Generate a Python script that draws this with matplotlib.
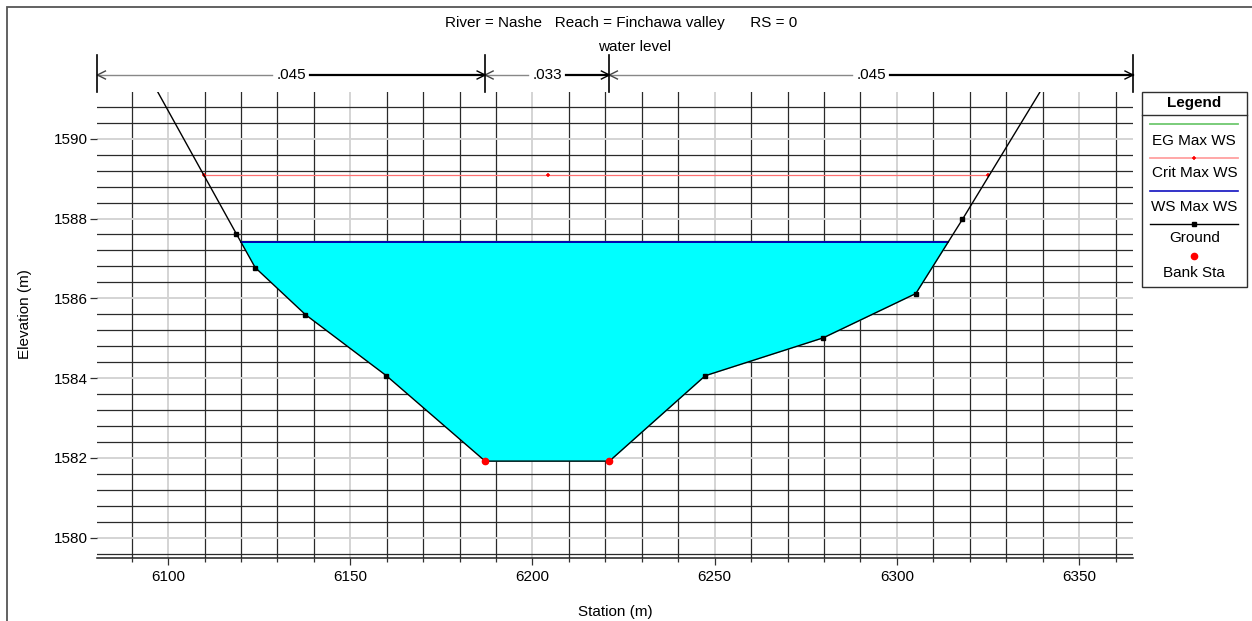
import numpy as np
import matplotlib
matplotlib.use('Agg')
import matplotlib.pyplot as plt
from matplotlib.ticker import MultipleLocator, FixedLocator
from matplotlib.transforms import blended_transform_factory
from matplotlib.lines import Line2D
from matplotlib.patches import Rectangle

plt.rcParams['font.family'] = ['Liberation Sans', 'DejaVu Sans']

# ---------------- data ----------------
ground_x = [6080.6, 6118.7, 6123.9, 6137.7, 6159.9, 6187.0, 6221.1, 6247.4, 6279.8, 6305.2, 6318.0, 6364.8]
ground_y = [1593.9, 1587.62, 1586.77, 1585.59, 1584.06, 1581.92, 1581.92, 1584.06, 1585.01, 1586.12, 1587.98, 1595.0]
bank_x = [6187.0, 6221.1]
bank_y = [1581.92, 1581.92]
ws_elev = 1587.42
eg_elev = 1587.43
crit_x = [6109.8, 6204.2, 6325.1]
crit_elev = 1589.08
n_breaks = [6080.6, 6187.0, 6221.1, 6364.8]
n_values = ['.045', '.033', '.045']
x_ticks = [6100, 6150, 6200, 6250, 6300, 6350]
y_ticks = [1580, 1582, 1584, 1586, 1588, 1590]
legend_labels = ['EG Max WS', 'Crit Max WS', 'WS Max WS', 'Ground', 'Bank Sta']
title_text = 'River = Nashe   Reach = Finchawa valley      RS = 0'
subtitle_text = 'water level'

# ---------------- figure ----------------
W, H = 1252, 621
fig = plt.figure(figsize=(W / 100, H / 100), dpi=100)
fig.patch.set_facecolor('white')


def fx(px):
    return px / W


def fy(py):
    return 1 - py / H


ax = fig.add_axes([fx(96.7), fy(557.7), fx(1133) - fx(96.7), fy(92) - fy(557.7)])
ax.set_xlim(6080.4, 6364.8)
ax.set_ylim(1579.5, 1591.17)

ax.xaxis.set_major_locator(FixedLocator(x_ticks))
ax.xaxis.set_minor_locator(MultipleLocator(10))
ax.yaxis.set_major_locator(FixedLocator(y_ticks))
ax.yaxis.set_minor_locator(MultipleLocator(0.4))
ax.set_xticklabels([str(v) for v in x_ticks])
ax.set_yticklabels([str(v) for v in y_ticks])

ax.set_axisbelow(True)
ax.grid(which='major', color='#d4d4d4', lw=1.4)
ax.grid(which='minor', color='#2a2a2a', lw=0.9)

ax.tick_params(axis='x', which='major', length=5.2, width=0.9, color='#303030',
               labelsize=11, pad=4)
ax.tick_params(axis='x', which='minor', length=3.0, width=0.9, color='#303030')
ax.tick_params(axis='y', which='major', length=4.8, width=0.9, color='#303030',
               labelsize=11, pad=1.5)
ax.tick_params(axis='y', which='minor', length=0)
for s in ['top', 'left', 'right']:
    ax.spines[s].set_visible(False)
ax.spines['bottom'].set_color('#202020')
ax.spines['bottom'].set_linewidth(1.1)

gx = np.array(ground_x)
gy = np.array(ground_y)

# water fill
ax.fill_between(gx, gy, ws_elev, where=gy <= ws_elev, interpolate=True,
                color='#00ffff', lw=0, zorder=2)


# water surface extent (intersections with ground)
def crossings(x, y, level):
    pts = []
    for i in range(len(x) - 1):
        y0, y1 = y[i] - level, y[i + 1] - level
        if y0 * y1 < 0:
            t = y0 / (y0 - y1)
            pts.append(x[i] + t * (x[i + 1] - x[i]))
    return pts


wx = crossings(gx, gy, ws_elev)
ax.plot([wx[0], wx[-1]], [eg_elev, eg_elev], color='#40c040', lw=1.0, zorder=3)
ax.plot([wx[0], wx[-1]], [ws_elev, ws_elev], color='#0000b0', lw=1.4, zorder=4)

# critical WS
ax.plot([crit_x[0], crit_x[-1]], [crit_elev, crit_elev], color='#ff7070', lw=0.9, zorder=4)
ax.plot(crit_x, [crit_elev] * len(crit_x), ls='none', marker='+', ms=3.5, mew=1.1,
        color='#ff0000', zorder=5)

# ground
ax.plot(gx, gy, color='black', lw=1.0, marker='s', ms=3.2, mfc='black', mec='black', zorder=6)
# bank stations
ax.plot(bank_x, bank_y, ls='none', marker='o', ms=4.5, mfc='#ff0000', mec='#ff0000', zorder=7)

# ---------------- Manning's n annotation ----------------
tr = blended_transform_factory(ax.transData, fig.transFigure)
y_line = fy(75)
px_per_unit = (fx(1133) - fx(96.7)) * W / (6364.8 - 6080.4)
fig.canvas.draw()
renderer = fig.canvas.get_renderer()
for i, val in enumerate(n_values):
    a, b = n_breaks[i], n_breaks[i + 1]
    c = (a + b) / 2
    t = ax.text(c, y_line, val, transform=tr, ha='center', va='center', fontsize=11,
                clip_on=False)
    bb = t.get_window_extent(renderer=renderer)
    half = (bb.width / 2 + 4) / px_per_unit
    ax.plot([a, c - half], [y_line, y_line], transform=tr, color='#888888', lw=1.0, clip_on=False)
    ax.plot([c + half, b], [y_line, y_line], transform=tr, color='black', lw=1.6, clip_on=False)
    dxu = 8 / px_per_unit
    dyf = 4 / H
    ax.plot([a + dxu, a, a + dxu], [y_line + dyf, y_line, y_line - dyf], transform=tr,
            color='#444444', lw=1.0, clip_on=False)
    ax.plot([b - dxu, b, b - dxu], [y_line + dyf, y_line, y_line - dyf], transform=tr,
            color='black', lw=1.0, clip_on=False)
for xb in n_breaks:
    ax.plot([xb, xb], [fy(55), fy(92)], transform=tr, color='black', lw=1.2, clip_on=False)

# ---------------- titles / labels ----------------
fig.text(fx(621), fy(23.3), title_text, ha='center', va='center', fontsize=11)
fig.text(fx(635), fy(46.7), subtitle_text, ha='center', va='center', fontsize=11)
fig.text(fx(615.8), fy(612), 'Station (m)', ha='center', va='center', fontsize=11)
fig.text(fx(25), fy(314), 'Elevation (m)', ha='center', va='center', fontsize=11, rotation=90)

# ---------------- legend ----------------
lx0, lx1, ly0, ly1 = 1142, 1246.7, 92, 286.7
fig.add_artist(Rectangle((fx(lx0), fy(ly1)), fx(lx1) - fx(lx0), (ly1 - ly0) / H,
                         transform=fig.transFigure, facecolor='white', edgecolor='#303030', lw=1.0))
fig.add_artist(Line2D([fx(lx0), fx(lx1)], [fy(115), fy(115)], transform=fig.transFigure,
                      color='#303030', lw=1.0))
cx = (lx0 + lx1) / 2
fig.text(fx(cx), fy(103.3), 'Legend', ha='center', va='center', fontsize=11, fontweight='bold')
sx0, sx1 = 1150, 1238
sym_y = [124.3, 157.7, 190.7, 224, 255.7]
txt_y = [140.7, 172.7, 206.7, 238.3, 272.7]
fig.add_artist(Line2D([fx(sx0), fx(sx1)], [fy(sym_y[0])] * 2, transform=fig.transFigure,
                      color='#70c870', lw=1.3))
fig.add_artist(Line2D([fx(sx0), fx(sx1)], [fy(sym_y[1])] * 2, transform=fig.transFigure,
                      color='#ffa0a0', lw=1.3))
fig.add_artist(Line2D([fx(cx)], [fy(sym_y[1])], transform=fig.transFigure, ls='none',
                      marker='+', ms=3.5, mew=1.1, color='#ff0000'))
fig.add_artist(Line2D([fx(sx0), fx(sx1)], [fy(sym_y[2])] * 2, transform=fig.transFigure,
                      color='#1010c0', lw=1.2))
fig.add_artist(Line2D([fx(sx0), fx(sx1)], [fy(sym_y[3])] * 2, transform=fig.transFigure,
                      color='black', lw=1.0))
fig.add_artist(Line2D([fx(cx)], [fy(sym_y[3])], transform=fig.transFigure, ls='none',
                      marker='s', ms=3.2, color='black'))
fig.add_artist(Line2D([fx(cx)], [fy(sym_y[4])], transform=fig.transFigure, ls='none',
                      marker='o', ms=4.5, color='#ff0000'))
for lab, yy in zip(legend_labels, txt_y):
    fig.text(fx(cx), fy(yy), lab, ha='center', va='center', fontsize=11)

# ---------------- outer frame ----------------
fig.add_artist(Rectangle((fx(7), -0.1), 1.2, fy(7) + 0.1, transform=fig.transFigure,
                         fill=False, edgecolor='#555555', lw=1.3))

fig.savefig('out.png', dpi=100)
